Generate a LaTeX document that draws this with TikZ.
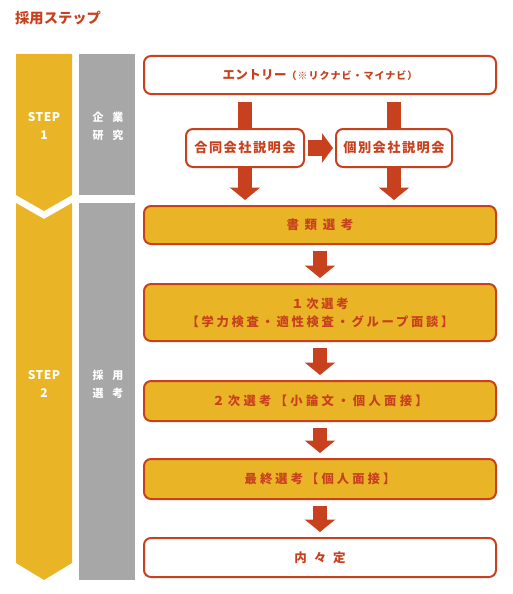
\documentclass[tikz,border=0pt]{standalone}
\usepackage{fontspec}
\setmainfont{Noto Sans CJK JP}
\usetikzlibrary{arrows.meta,calc}
\definecolor{rd}{RGB}{200,65,30}
\definecolor{yl}{RGB}{233,180,38}
\definecolor{gr}{RGB}{167,167,167}
\newcommand{\ls}[1]{\addfontfeature{LetterSpace=#1}}
\newcommand{\fs}[2]{\fontsize{#1}{#2}\selectfont}
\begin{document}
\begin{tikzpicture}[x=1pt,y=-1pt,
  box/.style={draw=rd, line width=2pt, rounded corners=7pt, fill=white, text=rd,
    font=\bfseries, inner sep=0pt, align=center},
  ybox/.style={box, fill=yl},
  fat/.style={draw=rd, line width=14.5pt, -{Triangle[length=12.5pt,width=30pt]}},
  fath/.style={draw=rd, line width=16pt, -{Triangle[length=11pt,width=29pt]}},
  bar/.style={draw=rd, line width=14.5pt},
  lbl/.style={text=white, font=\bfseries, align=center, inner sep=0pt}]
\useasboundingbox (0,0) rectangle (513,594);
\node[anchor=west, text=rd, font=\bfseries\fs{14.3}{16}, inner sep=0pt] (title) at (15,18.5) {採用ステップ};
% left columns
\fill[yl] (16,54) -- (72,54) -- (72,195) -- (44,211) -- (16,195) -- cycle;
\fill[yl] (16,203) -- (44,219) -- (72,203) -- (72,563) -- (44,580) -- (16,563) -- cycle;
\fill[gr] (79,54) rectangle (135,195);
\fill[gr] (79,203) rectangle (135,580);
\node[lbl, font=\bfseries\fs{12}{18}\ls{4}] (s1) at (44,126) {STEP\\1};
\node[lbl, font=\bfseries\fs{11}{18}\ls{80}] (g1) at (108,126) {企業\\研究};
\node[lbl, font=\bfseries\fs{12}{18}\ls{4}] (s2) at (44,384) {STEP\\2};
\node[lbl, font=\bfseries\fs{11}{18}\ls{80}] (g2) at (108,384) {採用\\選考};
% boxes
\node[box, minimum width=352pt, minimum height=38pt] (entry) at (320,75)
  {{\fs{12.5}{14}\ls{3}エントリー}{\fs{10}{12}\ls{10}（※リクナビ・マイナビ）}};
\node[box, minimum width=118pt, minimum height=38pt, font=\bfseries\fs{13.2}{16}\ls{11}] (godo) at (245,148) {合同会社説明会};
\node[box, minimum width=116pt, minimum height=38pt, font=\bfseries\fs{13.2}{16}\ls{11}] (kobetsu) at (394,148) {個別会社説明会};
\node[ybox, minimum width=352pt, minimum height=38pt, font=\bfseries\fs{12.5}{14}\ls{45}] (shorui) at (320,225) {書類選考};
\node[ybox, minimum width=352pt, minimum height=57pt, font=\bfseries\fs{12.3}{18}\ls{22}] (ichiji) at (320,312.5) {１次選考\\【学力検査・適性検査・グループ面談】};
\node[ybox, minimum width=352pt, minimum height=40pt, font=\bfseries\fs{12.3}{14}\ls{27}] (niji) at (320,401) {２次選考【小論文・個人面接】};
\node[ybox, minimum width=352pt, minimum height=40pt, font=\bfseries\fs{12.3}{14}\ls{25}] (saishu) at (320,479) {最終選考【個人面接】};
\node[box, minimum width=352pt, minimum height=39pt, font=\bfseries\fs{12.5}{14}\ls{55}] (naitei) at (320,557.5) {内々定};
% arrows
\draw[bar] ($(godo.north |- entry.south)+(0,7)$) -- (godo.north);
\draw[bar] ($(kobetsu.north |- entry.south)+(0,7)$) -- (kobetsu.north);
\draw[fath] ($(godo.east)+(3,0)$) -- ($(kobetsu.west)+(-2,0)$);
\draw[fat] (godo.south) -- ($(godo.south |- shorui.north)+(0,-5)$);
\draw[fat] (kobetsu.south) -- ($(kobetsu.south |- shorui.north)+(0,-5)$);
\draw[fat] ($(shorui.south)+(0,6)$) -- ($(ichiji.north)+(0,-5)$);
\draw[fat] ($(ichiji.south)+(0,6)$) -- ($(niji.north)+(0,-5)$);
\draw[fat] ($(niji.south)+(0,6)$) -- ($(saishu.north)+(0,-5)$);
\draw[fat] ($(saishu.south)+(0,6)$) -- ($(naitei.north)+(0,-5)$);
\end{tikzpicture}
\end{document}
